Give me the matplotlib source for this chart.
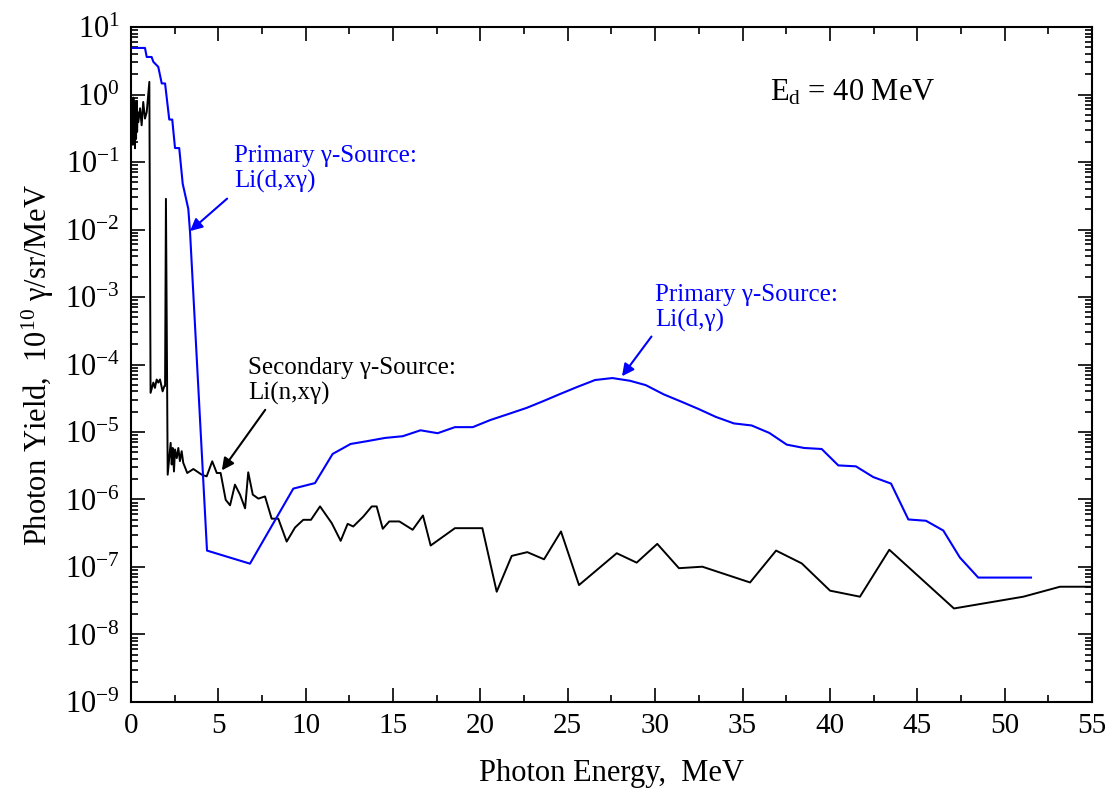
import numpy as np
import matplotlib
matplotlib.use("Agg")
import matplotlib.pyplot as plt
from matplotlib.ticker import MultipleLocator, LogLocator, FixedLocator, NullFormatter

plt.rcParams['font.family'] = ['Liberation Serif', 'DejaVu Serif']
plt.rcParams['mathtext.fontset'] = 'custom'
plt.rcParams['mathtext.rm'] = 'Liberation Serif'
plt.rcParams['mathtext.it'] = 'Liberation Serif:italic'

# Primary source (Li(d,xγ) + Li(d,γ))
primary_E = [0.0, 0.80, 0.90, 1.18, 1.28, 1.56, 1.76, 1.95, 2.19, 2.36, 2.52, 2.76, 2.96, 3.28, 3.38,
             4.35, 6.81, 9.29, 10.53, 11.54, 12.57, 13.49, 14.54, 15.55, 16.57, 17.55, 18.54, 19.56,
             20.55, 21.69, 22.65, 23.60, 24.55, 25.53, 26.56, 27.55, 28.56, 29.46, 30.50, 31.52,
             32.47, 33.48, 34.51, 35.52, 36.53, 37.53, 38.52, 39.53, 40.48, 41.49, 42.48, 43.50,
             44.49, 45.50, 46.49, 47.44, 48.49, 51.51]
primary_Y = [4.9, 4.9, 3.6, 3.6, 3.05, 2.57, 1.46, 1.46, 0.426, 0.426, 0.161, 0.161, 0.0476, 0.0202, 0.00908,
             1.75e-7, 1.12e-7, 1.45e-6, 1.75e-6, 4.73e-6, 6.65e-6, 7.3e-6, 8.17e-6, 8.66e-6, 1.06e-5,
             9.6e-6, 1.18e-5, 1.18e-5, 1.5e-5, 1.88e-5, 2.28e-5, 2.87e-5, 3.65e-5, 4.64e-5, 5.89e-5,
             6.3e-5, 5.74e-5, 4.95e-5, 3.6e-5, 2.8e-5, 2.2e-5, 1.67e-5, 1.34e-5, 1.25e-5, 9.7e-6,
             6.5e-6, 5.8e-6, 5.6e-6, 3.2e-6, 3.1e-6, 2.15e-6, 1.72e-6, 5.06e-7, 4.84e-7, 3.47e-7,
             1.38e-7, 6.97e-8, 6.97e-8]

# Secondary source Li(n,xγ)
secondary_E = [0.02, 0.05, 0.08, 0.11, 0.14, 0.17, 0.20, 0.23, 0.26, 0.29, 0.32, 0.35, 0.38,
               0.42, 0.52, 0.61, 0.70, 0.80, 0.90, 1.05, 1.12, 1.28, 1.37, 1.47, 1.56, 1.66, 1.81,
               1.91, 1.95, 2.00, 2.10, 2.27, 2.33, 2.39, 2.46, 2.52, 2.62, 2.71, 2.80, 2.90, 2.99,
               3.22, 3.57, 4.05, 4.33, 4.65, 4.91, 5.13, 5.42, 5.67, 5.95, 6.24, 6.53, 6.71, 6.97,
               7.29, 7.67, 8.05, 8.43, 8.91, 9.39, 9.86, 10.30, 10.82, 11.49, 12.00, 12.40, 12.72,
               13.30, 13.78, 14.06, 14.41, 14.78, 15.36, 16.12, 16.71, 17.15, 18.54, 20.11, 20.93,
               21.79, 22.68, 23.64, 24.61, 25.64, 27.80, 28.94, 30.12, 31.36, 32.70, 35.43, 36.92,
               38.39, 40.01, 41.72, 43.40, 47.10, 51.07, 53.17, 55.0]
secondary_Y = [0.85, 0.25, 0.7, 0.18, 0.9, 0.3, 0.75, 0.16, 0.6, 0.22, 0.8, 0.28, 0.55,
               0.39, 0.625, 0.35, 0.776, 0.44, 0.55, 1.54, 3.8e-5, 5.4e-5, 4.5e-5, 6.0e-5, 5.4e-5,
               6.0e-5, 4.0e-5, 4.8e-5, 4.8e-5, 0.0285, 2.33e-6, 6.9e-6, 3.3e-6, 5.8e-6, 2.6e-6,
               5.5e-6, 4.1e-6, 5.8e-6, 3.7e-6, 5.2e-6, 3.5e-6, 2.47e-6, 2.83e-6, 2.33e-6, 2.2e-6,
               3.68e-6, 2.47e-6, 2.47e-6, 9.9e-7, 8.2e-7, 1.66e-6, 1.18e-6, 7.4e-7, 2.53e-6, 1.18e-6,
               1.03e-6, 1.11e-6, 5.2e-7, 5.2e-7, 2.38e-7, 3.85e-7, 5.0e-7, 5.0e-7, 7.9e-7, 4.46e-7,
               2.44e-7, 4.36e-7, 3.98e-7, 5.6e-7, 7.9e-7, 7.9e-7, 3.68e-7, 4.73e-7, 4.73e-7, 3.56e-7,
               5.8e-7, 2.08e-7, 3.76e-7, 3.76e-7, 4.3e-8, 1.46e-7, 1.66e-7, 1.3e-7, 3.36e-7, 5.4e-8,
               1.6e-7, 1.16e-7, 2.2e-7, 9.6e-8, 1.01e-7, 5.9e-8, 1.75e-7, 1.13e-7, 4.46e-8, 3.63e-8,
               1.8e-7, 2.43e-8, 3.63e-8, 5.1e-8, 5.1e-8]

x_ticks = [0, 5, 10, 15, 20, 25, 30, 35, 40, 45, 50, 55]
y_exps = list(range(-9, 2))

fig = plt.figure(figsize=(11.12, 7.95), dpi=100)
ax = fig.add_axes([0.1178, 0.117, 0.8642, 0.849])

ax.plot(secondary_E, secondary_Y, color='black', lw=1.4)
ax.plot(primary_E, primary_Y, color='#0000ff', lw=1.5)

ax.set_yscale('log')
ax.set_xlim(0, 55)
ax.set_ylim(1e-9, 1e1)

ax.xaxis.set_major_locator(FixedLocator(x_ticks))
ax.set_xticklabels([str(t) for t in x_ticks])
ax.xaxis.set_minor_locator(MultipleLocator(2.5))
ax.yaxis.set_major_locator(FixedLocator([10.0 ** e for e in y_exps]))
ax.set_yticklabels(['10$^{\\mathrm{%d}}$' % e for e in y_exps])
ax.yaxis.set_minor_locator(LogLocator(base=10, subs=np.arange(2, 10), numticks=100))
ax.yaxis.set_minor_formatter(NullFormatter())

ax.tick_params(which='both', direction='in', top=True, right=True, width=1.2)
ax.tick_params(axis='x', labelsize=21)
ax.tick_params(axis='y', labelsize=22)
ax.tick_params(which='major', length=10, pad=8)
ax.tick_params(which='minor', length=5)
for s in ax.spines.values():
    s.set_linewidth(1.5)

ax.set_xlabel('Photon Energy,  MeV', fontsize=22, labelpad=14)
ax.set_ylabel('Photon Yield,  10$^{10}$ γ/sr/MeV', fontsize=22, labelpad=6)

ax.text(36.57, 1.05, 'E$_{\\mathrm{d}}$ = 40 MeV', fontsize=22, va='center', ha='left')

ax.annotate('Primary γ-Source:\nLi(d,xγ)', xy=(3.38, 0.0095), xytext=(5.9, 0.18),
            color='#0000ff', fontsize=18, va='top', ha='left', linespacing=1.15,
            arrowprops=dict(arrowstyle='-|>', color='#0000ff', lw=1.5, mutation_scale=18,
                            shrinkA=4, shrinkB=0, relpos=(0.0, 0.0)))
ax.annotate('Primary γ-Source:\nLi(d,γ)', xy=(28.1, 6.7e-5), xytext=(30.0, 1.57e-3),
            color='#0000ff', fontsize=18, va='top', ha='left', linespacing=1.15,
            arrowprops=dict(arrowstyle='-|>', color='#0000ff', lw=1.5, mutation_scale=18,
                            shrinkA=2, shrinkB=0, relpos=(0.0, 0.0)))
ax.annotate('Secondary γ-Source:\nLi(n,xγ)', xy=(5.2, 2.7e-6), xytext=(6.7, 1.29e-4),
            color='black', fontsize=18, va='top', ha='left', linespacing=1.15,
            arrowprops=dict(arrowstyle='-|>', color='black', lw=1.5, mutation_scale=18,
                            shrinkA=2, shrinkB=0, relpos=(0.1, 0.0)))

fig.savefig('out.png', dpi=100)
